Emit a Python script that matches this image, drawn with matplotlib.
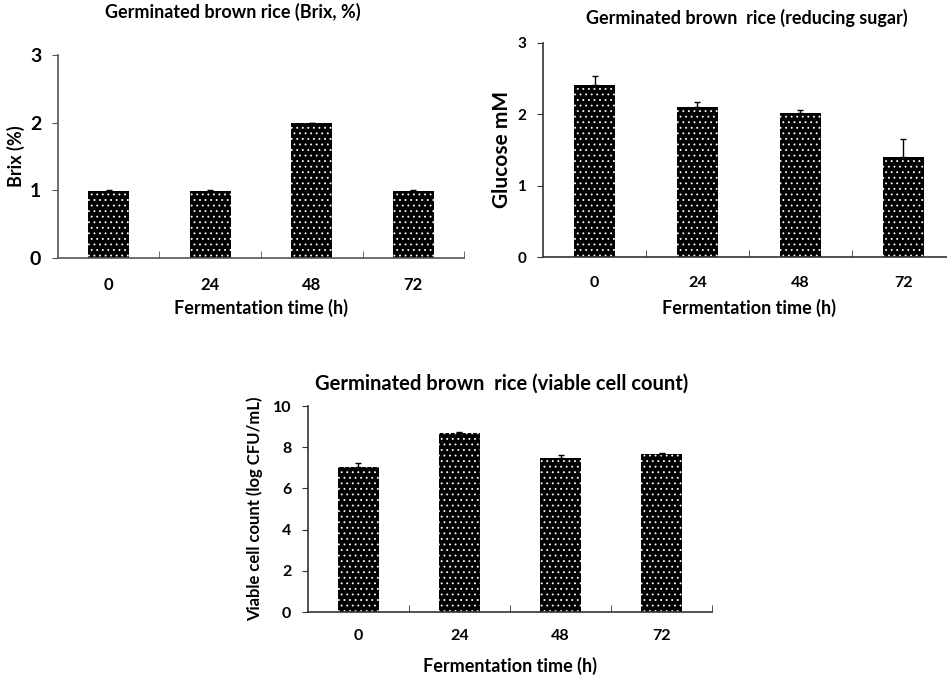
import matplotlib
matplotlib.use("Agg")
import matplotlib.pyplot as plt
import numpy as np

plt.rcParams['font.family'] = ['Lato', 'DejaVu Sans']
plt.rcParams['font.weight'] = 'bold'
plt.rcParams['hatch.color'] = 'white'
plt.rcParams['hatch.linewidth'] = 0.6

# fermentation time points
times = ['0', '24', '48', '72']

# brix (%)
brix = [0.99, 0.99, 1.99, 0.99]
brix_err = [0.01, 0.01, 0.01, 0.01]

# reducing sugar (glucose mM)
glucose = [2.41, 2.10, 2.02, 1.40]
glucose_err = [0.13, 0.07, 0.04, 0.25]

# viable cell count (log CFU/mL)
viable = [7.05, 8.68, 7.46, 7.67]
viable_err = [0.17, 0.05, 0.14, 0.05]


def bar_panel(ax, vals, errs, ymax, ystep, title, ylabel, title_size, title_pad, title_x,
              ylab_size, ytick_size, xtick_size, xtick_pad, xlab_pad,
              axis_color='#333333'):
    x = np.arange(len(vals))
    ax.bar(x, vals, width=0.4, color='black', hatch='...', zorder=2)
    ax.errorbar(x, vals, yerr=[np.zeros(len(errs)), errs], fmt='none',
                ecolor='black', elinewidth=1, capsize=2.5, capthick=1, zorder=3)
    ax.set_xlim(-0.5, len(vals) - 0.5)
    ax.set_ylim(0, ymax)
    ax.set_yticks(np.arange(0, ymax + ystep / 2, ystep))
    ax.set_xticks(x)
    ax.set_xticklabels(times)
    ax.set_xticks(np.arange(0.5, len(vals), 1), minor=True)
    ax.tick_params(axis='x', which='major', length=0, pad=xtick_pad, labelsize=xtick_size)
    ax.tick_params(axis='x', which='minor', length=5, direction='in', color=axis_color)
    ax.tick_params(axis='y', length=4, direction='out', color=axis_color,
                   labelsize=ytick_size, pad=8)
    for s in ['top', 'right']:
        ax.spines[s].set_visible(False)
    for s in ['left', 'bottom']:
        ax.spines[s].set_color(axis_color)
        ax.spines[s].set_linewidth(1.2)
    ax.set_title(title, fontsize=title_size, fontweight='bold', pad=title_pad, x=title_x)
    ax.set_xlabel('Fermentation time (h)', fontsize=13, fontweight='bold',
                  labelpad=xlab_pad)
    ax.set_ylabel(ylabel, fontsize=ylab_size, fontweight='bold')


fig = plt.figure(figsize=(9.47, 6.81), dpi=100)

ax1 = fig.add_axes([0.0612, 0.621, 0.4288, 0.298])
bar_panel(ax1, brix, brix_err, 3, 1, 'Germinated brown rice (Brix, %)', 'Brix (%)',
          13, 27, 0.43, 13, 14, 12, 13.5, 4, axis_color='#555555')
ax1.yaxis.set_label_coords(-0.081, 0.5)

ax2 = fig.add_axes([0.5734, 0.6226, 0.435, 0.3143])
bar_panel(ax2, glucose, glucose_err, 3, 1, 'Germinated brown  rice (reducing sugar)',
          'Glucose mM', 13, 14, 0.495, 15, 11, 11.5, 14, 6)
ax2.yaxis.set_label_coords(-0.075, 0.5)

ax3 = fig.add_axes([0.3252, 0.1013, 0.4267, 0.3025])
bar_panel(ax3, viable, viable_err, 10, 2, 'Germinated brown  rice (viable cell count)',
          'Viable cell count (log CFU/mL)', 14.5, 12, 0.48, 12, 11.5, 11.5, 12, 10)
ax3.yaxis.set_label_coords(-0.111, 0.5)

fig.savefig('out.png', dpi=100, facecolor='white')
